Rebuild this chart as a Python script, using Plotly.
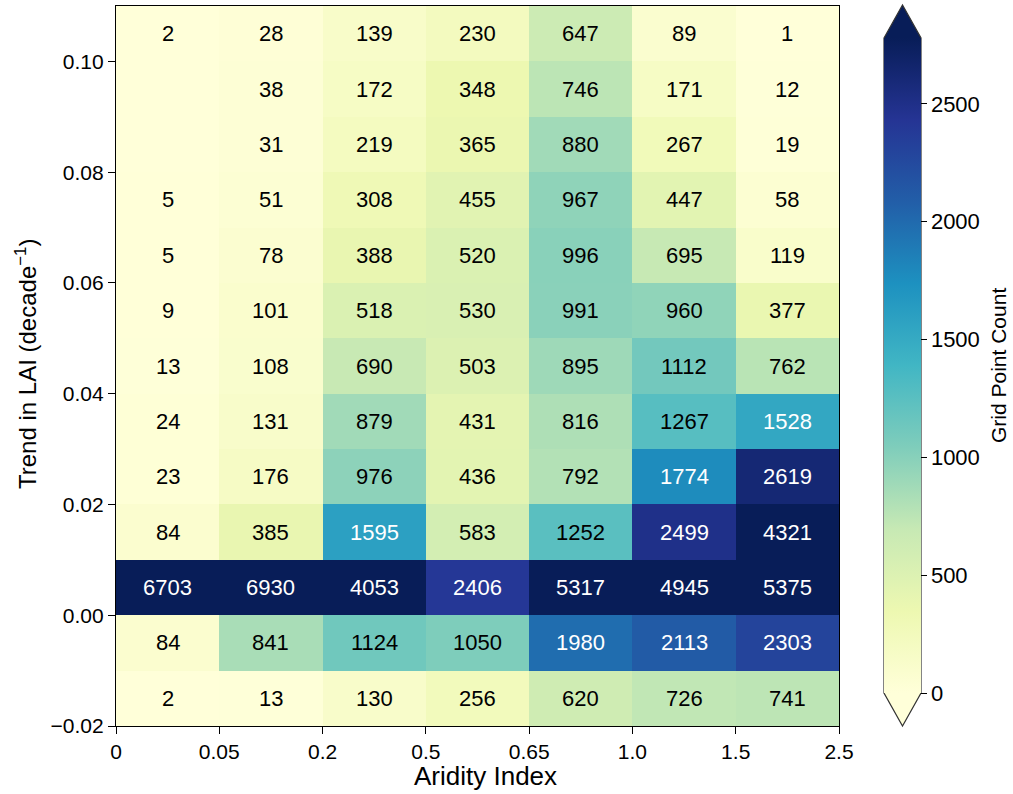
import plotly.graph_objects as go

# Aridity bins (edges) and LAI-trend bins (edges)
aridity_edges = ["0", "0.05", "0.2", "0.5", "0.65", "1.0", "1.5", "2.5"]
trend_edges = [-0.02, -0.01, 0.00, 0.01, 0.02, 0.03, 0.04, 0.05, 0.06, 0.07, 0.08, 0.09, 0.10, 0.11]

# Grid point counts, rows from lowest trend bin (-0.02..-0.01) to highest (0.10..0.11)
counts = [
    [2, 13, 130, 256, 620, 726, 741],
    [84, 841, 1124, 1050, 1980, 2113, 2303],
    [6703, 6930, 4053, 2406, 5317, 4945, 5375],
    [84, 385, 1595, 583, 1252, 2499, 4321],
    [23, 176, 976, 436, 792, 1774, 2619],
    [24, 131, 879, 431, 816, 1267, 1528],
    [13, 108, 690, 503, 895, 1112, 762],
    [9, 101, 518, 530, 991, 960, 377],
    [5, 78, 388, 520, 996, 695, 119],
    [5, 51, 308, 455, 967, 447, 58],
    [0, 31, 219, 365, 880, 267, 19],
    [0, 38, 172, 348, 746, 171, 12],
    [2, 28, 139, 230, 647, 89, 1],
]

vmin, vmax = 0, 2780
colorbar_ticks = [0, 500, 1000, 1500, 2000, 2500]
ylgnbu = ["#ffffd9", "#edf8b1", "#c7e9b4", "#7fcdbb", "#41b6c4",
          "#1d91c0", "#225ea8", "#253494", "#081d58"]
colorscale = [[i / (len(ylgnbu) - 1), c] for i, c in enumerate(ylgnbu)]

n_cols = len(aridity_edges) - 1
x_centers = [i + 0.5 for i in range(n_cols)]
y_centers = [(trend_edges[i] + trend_edges[i + 1]) / 2 for i in range(len(trend_edges) - 1)]

FONT = "Liberation Sans, Arial, sans-serif"

# Figure geometry (pixels)
W, H = 1013, 794
L, R, T, B = 116, 174, 6, 68
pw, ph = W - L - R, H - T - B


def px_x(p):
    return (p - L) / pw


def px_y(p):
    return (H - B - p) / ph


cb_left, cb_right = 884, 921
cb_top, cb_bottom = 38, 693
cb_tip_top, cb_tip_bottom = 5, 726

fig = go.Figure()
fig.add_trace(go.Heatmap(
    x=x_centers, y=y_centers, z=counts,
    zmin=vmin, zmax=vmax, colorscale=colorscale,
    xgap=0, ygap=0, hoverinfo="skip",
    colorbar=dict(
        x=px_x(cb_left), xanchor="left", xpad=0,
        y=px_y(cb_bottom), yanchor="bottom", ypad=0,
        len=(cb_bottom - cb_top) / ph, lenmode="fraction",
        thickness=cb_right - cb_left, thicknessmode="pixels",
        outlinewidth=0,
        tickvals=colorbar_ticks, ticks="outside", ticklen=6, tickwidth=1,
        tickcolor="black",
        tickfont=dict(family=FONT, size=22, color="black"),
    ),
))

# Cell count labels
annotations = []
for r, row in enumerate(counts):
    for c, v in enumerate(row):
        if v == 0:
            continue
        annotations.append(dict(
            x=x_centers[c], y=y_centers[r], xref="x", yref="y",
            text=str(v), showarrow=False,
            font=dict(family=FONT, size=22, color="white" if v > 1400 else "black"),
        ))

# Axis and colorbar titles
annotations += [
    dict(text="Aridity Index", xref="paper", yref="paper",
         x=px_x(486), y=px_y(776), xanchor="center", yanchor="middle",
         showarrow=False, font=dict(family=FONT, size=26, color="black")),
    dict(text="Trend in LAI (decade<sup>\u22121</sup>)", xref="paper", yref="paper",
         x=px_x(26), y=px_y(364), xanchor="center", yanchor="middle", textangle=-90,
         showarrow=False, font=dict(family=FONT, size=24, color="black")),
    dict(text="Grid Point Count", xref="paper", yref="paper",
         x=px_x(998), y=px_y(366), xanchor="center", yanchor="middle", textangle=-90,
         showarrow=False, font=dict(family=FONT, size=21, color="black")),
]
fig.update_layout(annotations=annotations)

# Extension triangles and outline of the colorbar
xm = (cb_left + cb_right) / 2
shapes = [
    dict(type="path", xref="paper", yref="paper", layer="above",
         path=f"M {px_x(cb_left)},{px_y(cb_top)} L {px_x(xm)},{px_y(cb_tip_top)} "
              f"L {px_x(cb_right)},{px_y(cb_top)} Z",
         fillcolor=ylgnbu[-1], line=dict(width=0)),
    dict(type="path", xref="paper", yref="paper", layer="above",
         path=f"M {px_x(cb_left)},{px_y(cb_bottom)} L {px_x(xm)},{px_y(cb_tip_bottom)} "
              f"L {px_x(cb_right)},{px_y(cb_bottom)} Z",
         fillcolor=ylgnbu[0], line=dict(width=0)),
    dict(type="path", xref="paper", yref="paper", layer="above",
         path=(f"M {px_x(cb_left)},{px_y(cb_top)} L {px_x(xm)},{px_y(cb_tip_top)} "
               f"L {px_x(cb_right)},{px_y(cb_top)} L {px_x(cb_right)},{px_y(cb_bottom)} "
               f"L {px_x(xm)},{px_y(cb_tip_bottom)} L {px_x(cb_left)},{px_y(cb_bottom)} Z"),
         fillcolor="rgba(0,0,0,0)", line=dict(color="#333333", width=1.2)),
]

fig.update_layout(
    width=W, height=H,
    margin=dict(l=L, r=R, t=T, b=B, pad=0),
    paper_bgcolor="white", plot_bgcolor="white",
    shapes=shapes,
    font=dict(family=FONT, size=21, color="black"),
    xaxis=dict(
        range=[0, n_cols], tickvals=list(range(n_cols + 1)), ticktext=aridity_edges,
        ticks="outside", ticklen=7, tickwidth=1, tickcolor="black",
        showline=True, linecolor="black", linewidth=1.2, mirror=True,
        showgrid=False, zeroline=False,
        tickfont=dict(family=FONT, size=21, color="black"),
    ),
    yaxis=dict(
        range=[trend_edges[0], trend_edges[-1]],
        tickvals=[-0.02, 0.0, 0.02, 0.04, 0.06, 0.08, 0.10], tickformat=".2f",
        ticks="outside", ticklen=7, tickwidth=1, tickcolor="black",
        showline=True, linecolor="black", linewidth=1.2, mirror=True,
        showgrid=False, zeroline=False,
        tickfont=dict(family=FONT, size=21, color="black"),
    ),
)

fig.write_html("out.html")
